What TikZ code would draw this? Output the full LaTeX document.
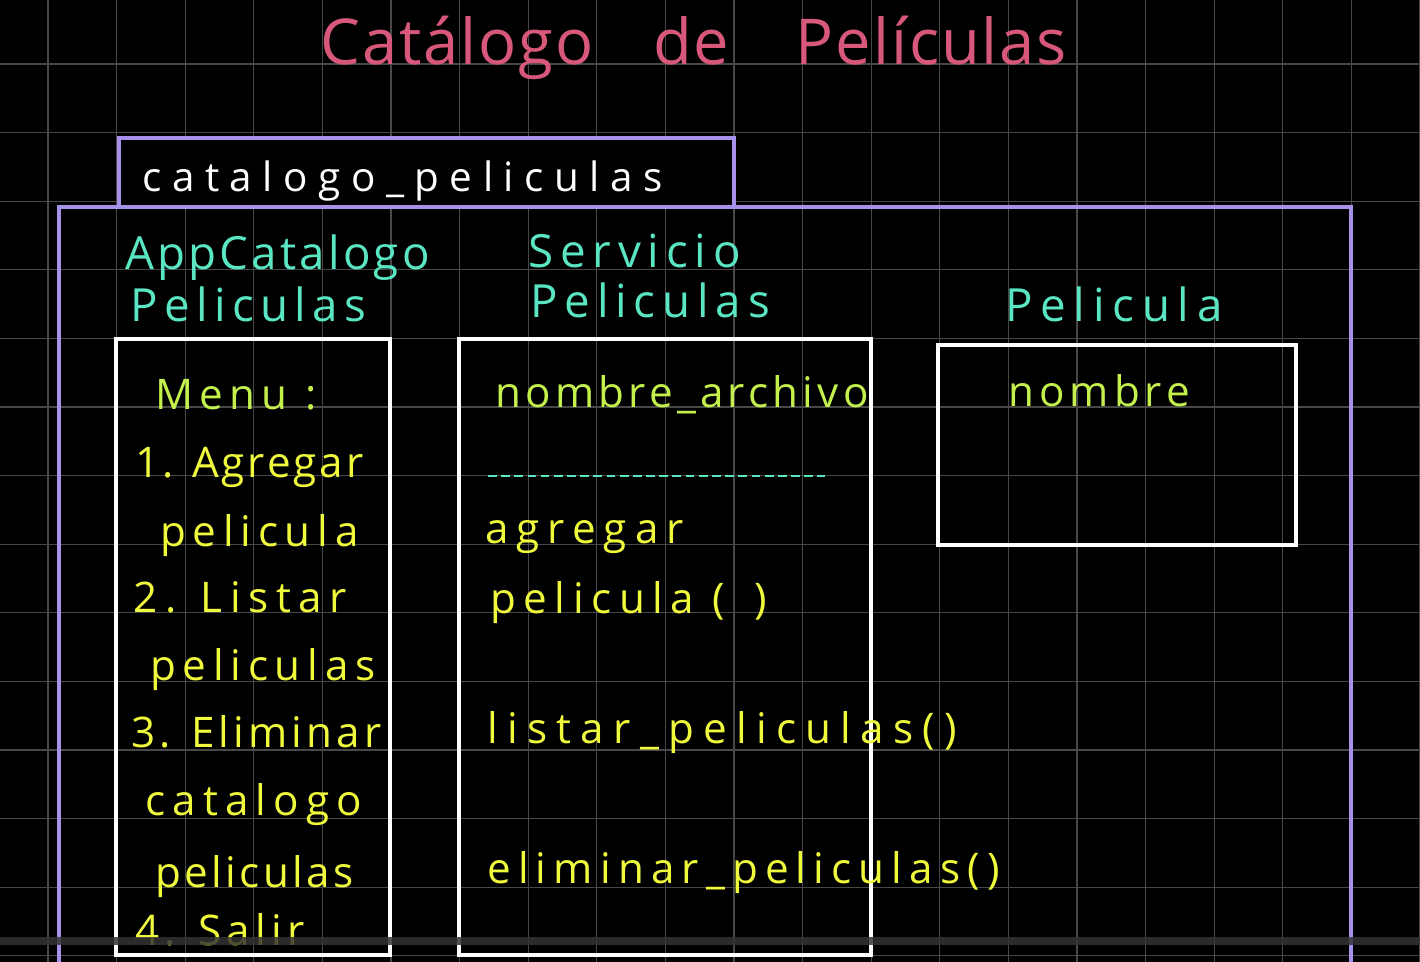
\documentclass[tikz,border=0pt]{standalone}
\usepackage{fontspec}
\setmainfont{Open Sans}
\definecolor{rejilla}{RGB}{72,72,72}
\definecolor{rosa}{RGB}{215,88,122}
\definecolor{lila}{RGB}{165,145,235}
\definecolor{turquesa}{RGB}{90,230,195}
\definecolor{lima}{RGB}{195,240,75}
\definecolor{amarillo}{RGB}{240,250,60}
\tikzset{
  letra/.style = {anchor = base west, inner sep = 0},
  titulo/.style = {letra, text = rosa, font = \fontsize{36}{36}\selectfont\addfontfeature{LetterSpace=3}},
  paquete/.style = {letra, text = white, font = \fontsize{23}{23}\selectfont\addfontfeature{LetterSpace=26}},
  clase/.style = {letra, text = turquesa, font = \fontsize{26}{26}\selectfont\addfontfeature{LetterSpace=#1}},
  clase/.default = 15,
  atributo/.style = {letra, text = lima, font = \fontsize{24}{24}\selectfont\addfontfeature{LetterSpace=#1}},
  atributo/.default = 10,
  metodo/.style = {letra, text = amarillo, font = \fontsize{24}{24}\selectfont\addfontfeature{LetterSpace=#1}},
  metodo/.default = 10,
  caja/.style = {draw = white, line width = 1.8pt},
  marco/.style = {draw = lila, line width = 2.3pt}
}

\begin{document}
\begin{tikzpicture}[x = 0.02cm, y = -0.02cm]
      \useasboundingbox (0, 0) rectangle (1420, 962);
      \fill[black] (0, 0) rectangle (1420, 962);
      \foreach \i in {0, ..., 20}
        \draw[rejilla, line width = 0.6pt] ({48 + 68.6*\i}, 0) -- ({48 + 68.6*\i}, 962);
      \foreach \j in {0, ..., 13}
        \draw[rejilla, line width = 0.6pt] (0, {64 + 68.6*\j}) -- (1420, {64 + 68.6*\j});

      \node[titulo] (titulo) at (320, 65) {Catálogo\hspace{0.95em}de\hspace{1.05em}Películas};

      \fill[black] (119, 138) rectangle (734, 206);
      \draw[marco] (119, 206) -- (119, 138) -- (734, 138) -- (734, 206);
      \draw[marco] (59, 975) -- (59, 207) -- (1351, 207) -- (1351, 975);
      \node[paquete] (paquete) at (142, 192) {catalogo\_peliculas};

      \node[clase = 7] (app1) at (125, 270) {AppCatalogo};
      \node[clase = 14] (app2) at (130, 322) {Peliculas};
      \node[clase] (serv1) at (528, 268) {Servicio};
      \node[clase] (serv2) at (530, 318) {Peliculas};
      \node[clase = 17] (peli) at (1005, 322) {Pelicula};

      \draw[caja] (116, 955) -- (116, 339) -- (390, 339) -- (390, 955) -- cycle;
      \draw[caja] (459, 955) -- (459, 339) -- (871, 339) -- (871, 955) -- cycle;
      \draw[caja] (938, 345) rectangle (1296, 545);

      \node[atributo = 15] (menu) at (155, 410) {Menu :};
      \node[metodo = 7] (op1a) at (135, 478) {1. Agregar};
      \node[metodo = 16] (op1b) at (160, 547) {pelicula};
      \node[metodo = 18] (op2a) at (133, 612) {2. Listar};
      \node[metodo = 16] (op2b) at (150, 680) {peliculas};
      \node[metodo] (op3a) at (131, 747) {3. Eliminar};
      \node[metodo = 17] (op3b) at (145, 815) {catalogo};
      \node[metodo = 8] (op3c) at (155, 887) {peliculas};
      \node[metodo = 13] (op4) at (135, 945) {4. Salir};

      \node[atributo] (archivo) at (495, 408) {nombre\_archivo};
      \draw[turquesa, line width = 1.5pt, dash pattern = on 5pt off 2.5pt] (488, 476) -- (825, 476);
      \node[metodo = 19] (agr1) at (485, 543) {agregar};
      \node[metodo = 18] (agr2) at (490, 613) {pelicula (\hspace{0.7em})};
      \node[metodo = 22] (listar) at (487, 743) {listar\_peliculas()};
      \node[metodo = 17] (eliminar) at (487, 883) {eliminar\_peliculas()};

      \node[atributo = 12] (nombre) at (1008, 407) {nombre};

      \fill[black!80!white, opacity = 0.85] (0, 937) rectangle (1420, 945);
    \end{tikzpicture}
\end{document}
